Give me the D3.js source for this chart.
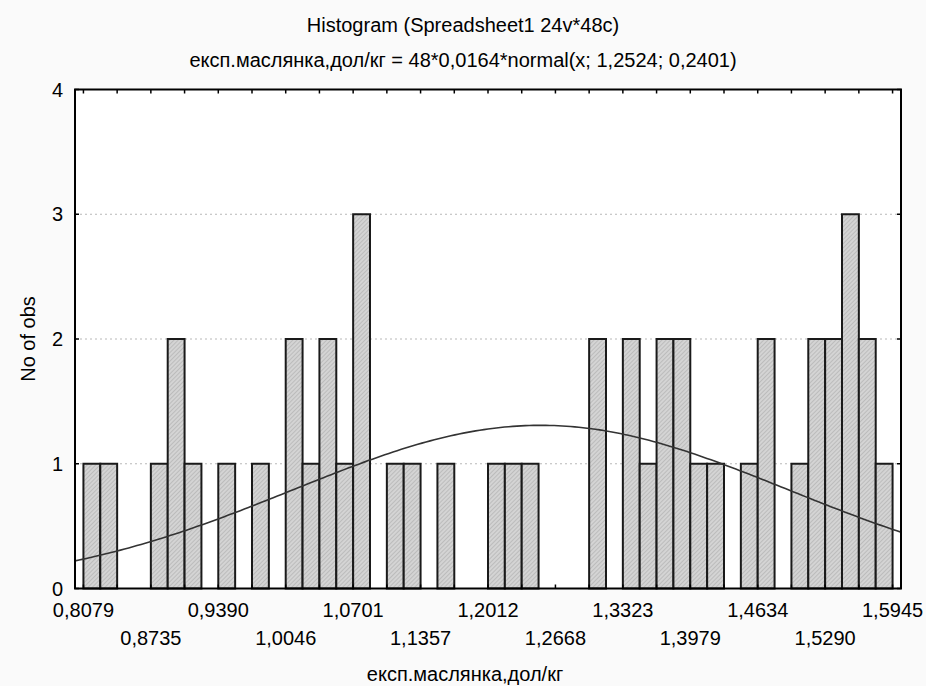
<!DOCTYPE html>
<html>
<head>
<meta charset="utf-8">
<script src="https://cdn.jsdelivr.net/npm/d3@7"></script>
<style>
  body { margin: 0; background: #fafafa; }
  svg { display: block; font-family: "Liberation Sans", Arial, sans-serif; }
  .lbl { font-size: 20px; fill: #000; }
</style>
</head>
<body>
<svg id="chart" width="926" height="686"></svg>
<script>
// ---- data ----------------------------------------------------------
const counts = [1,1,0,0,1,2,1,0,1,0,1,0,2,1,2,1,3,
                0,1,1,0,1,0,0,1,1,1,0,0,0,2,0,2,1,2,
                2,1,1,0,1,2,0,1,2,2,3,2,1];
const xMin = 0.8079, xMax = 1.5945;
const tickLabels = ["0,8079","0,8735","0,9390","1,0046","1,0701","1,1357","1,2012",
                    "1,2668","1,3323","1,3979","1,4634","1,5290","1,5945"];
const yTicks = [0, 1, 2, 3, 4];
const nObs = 48, fitStep = 0.0164, fitMean = 1.2524, fitSd = 0.2401;

const title = "Histogram (Spreadsheet1 24v*48c)";
const subtitle = "експ.маслянка,дол/кг = 48*0,0164*normal(x; 1,2524; 0,2401)";
const xTitle = "експ.маслянка,дол/кг";
const yTitle = "No of obs";

// ---- layout --------------------------------------------------------
const pL = 75, pR = 901, pT = 89.5, pB = 588.5;
const binW = (xMax - xMin) / counts.length;

const svg = d3.select("#chart");

const x = d3.scaleLinear()
  .domain([xMin - binW / 2, xMax + binW / 2])
  .range([pL, pR]);
const y = d3.scaleLinear().domain([0, 4]).range([pB, pT]);

// hatch fill
const defs = svg.append("defs");
const pat = defs.append("pattern")
    .attr("id", "hatch")
    .attr("patternUnits", "userSpaceOnUse")
    .attr("width", 3).attr("height", 3)
    .attr("patternTransform", "rotate(45)");
pat.append("rect").attr("width", 3).attr("height", 3).attr("fill", "#d4d4d4");
pat.append("line").attr("x1", 0).attr("y1", 0).attr("x2", 0).attr("y2", 3)
    .attr("stroke", "#a4a4a4").attr("stroke-width", 1);

defs.append("clipPath").attr("id", "plotClip")
  .append("rect").attr("x", pL).attr("y", pT)
    .attr("width", pR - pL).attr("height", pB - pT);

// plot background
svg.append("rect")
    .attr("x", pL).attr("y", pT)
    .attr("width", pR - pL).attr("height", pB - pT)
    .attr("fill", "#fff");

// grid
svg.append("g").selectAll("line")
  .data(yTicks.filter(d => d > 0 && d < 4))
  .join("line")
    .attr("x1", pL).attr("x2", pR)
    .attr("y1", d => y(d)).attr("y2", d => y(d))
    .attr("stroke", "#b8b8b8").attr("stroke-width", 1)
    .attr("stroke-dasharray", "2,3");

// bars
const bins = counts.map((c, i) => ({ x0: xMin + i * binW, x1: xMin + (i + 1) * binW, c }));
svg.append("g").selectAll("rect")
  .data(bins.filter(d => d.c > 0))
  .join("rect")
    .attr("x", d => x(d.x0))
    .attr("width", d => x(d.x1) - x(d.x0))
    .attr("y", d => y(d.c))
    .attr("height", d => y(0) - y(d.c))
    .attr("fill", "url(#hatch)")
    .attr("stroke", "#1a1a1a").attr("stroke-width", 2);

// fitted normal curve
const pdf = v => Math.exp(-0.5 * ((v - fitMean) / fitSd) ** 2) / (fitSd * Math.sqrt(2 * Math.PI));
const [d0, d1] = x.domain();
const curvePts = d3.range(0, 201).map(i => d0 + (d1 - d0) * i / 200);
svg.append("path")
    .datum(curvePts)
    .attr("clip-path", "url(#plotClip)")
    .attr("fill", "none")
    .attr("stroke", "#333").attr("stroke-width", 1.6)
    .attr("d", d3.line().x(v => x(v)).y(v => y(nObs * fitStep * pdf(v))));

// ticks (inward) on all four sides
const minorX = d3.range(0, counts.length + 1, 2).map(i => xMin + i * binW);
const tk = svg.append("g").attr("stroke", "#000").attr("stroke-width", 1.5);
tk.selectAll("line.tt").data(minorX).join("line").attr("class", "tt")
    .attr("x1", d => x(d)).attr("x2", d => x(d))
    .attr("y1", pT).attr("y2", pT + 4);
tk.selectAll("line.tb").data(minorX).join("line").attr("class", "tb")
    .attr("x1", d => x(d)).attr("x2", d => x(d))
    .attr("y1", pB).attr("y2", pB - 4);
tk.selectAll("line.tl").data(yTicks).join("line").attr("class", "tl")
    .attr("x1", pL).attr("x2", pL + 4)
    .attr("y1", d => y(d)).attr("y2", d => y(d));
tk.selectAll("line.tr").data(yTicks).join("line").attr("class", "tr")
    .attr("x1", pR).attr("x2", pR - 4)
    .attr("y1", d => y(d)).attr("y2", d => y(d));

// frame
svg.append("rect")
    .attr("x", pL).attr("y", pT)
    .attr("width", pR - pL).attr("height", pB - pT)
    .attr("fill", "none").attr("stroke", "#000").attr("stroke-width", 2);

// y labels
svg.append("g").selectAll("text")
  .data(yTicks)
  .join("text")
    .attr("class", "lbl")
    .attr("x", 63).attr("y", d => y(d))
    .attr("dy", "0.35em")
    .attr("text-anchor", "end")
    .text(d => d);

// x labels, two staggered rows
svg.append("g").selectAll("text")
  .data(tickLabels)
  .join("text")
    .attr("class", "lbl")
    .attr("x", (d, i) => x(xMin + i * 4 * binW))
    .attr("y", (d, i) => i % 2 === 0 ? 617 : 645)
    .attr("text-anchor", "middle")
    .text(d => d);

// titles
svg.append("text").attr("class", "lbl")
    .attr("x", 463).attr("y", 32).attr("text-anchor", "middle").text(title);
svg.append("text").attr("class", "lbl")
    .attr("x", 463).attr("y", 67).attr("text-anchor", "middle").text(subtitle);
svg.append("text").attr("class", "lbl")
    .attr("x", 465).attr("y", 681).attr("text-anchor", "middle").text(xTitle);
svg.append("text").attr("class", "lbl")
    .attr("transform", `translate(35, ${(pT + pB) / 2}) rotate(-90)`)
    .attr("text-anchor", "middle").text(yTitle);
</script>
</body>
</html>
